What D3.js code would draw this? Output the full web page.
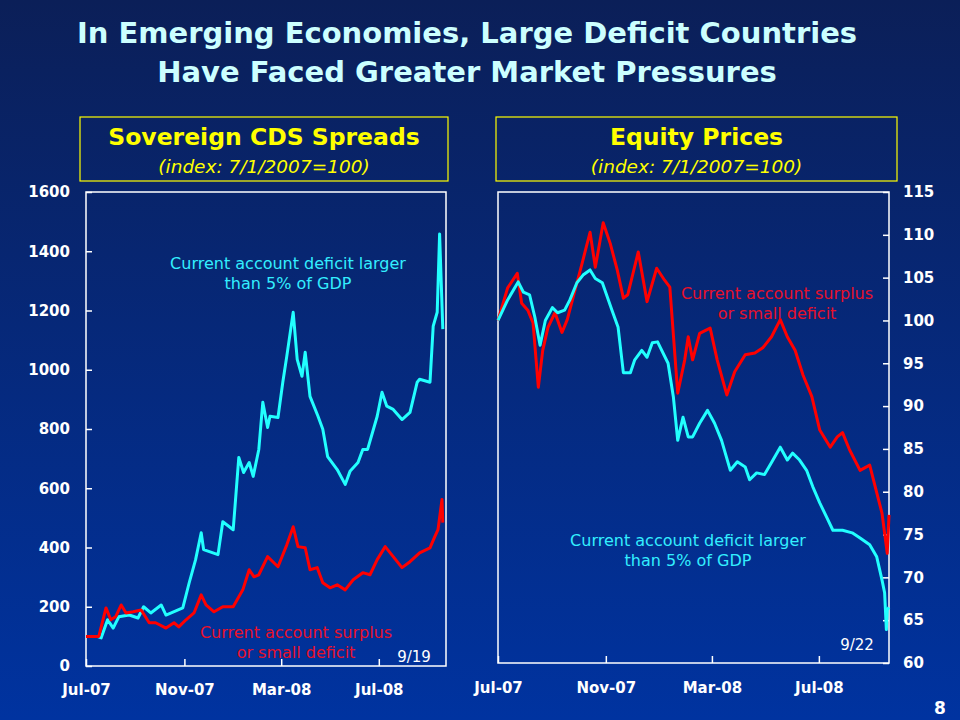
<!DOCTYPE html>
<html>
<head>
<meta charset="utf-8">
<script src="https://cdn.jsdelivr.net/npm/d3@7"></script>
<style>
  html, body { margin: 0; padding: 0; background: #07215f; }
  svg { display: block; }
  .tick text { font-family: "DejaVu Sans", Verdana, sans-serif; font-weight: bold; font-size: 15px; fill: #fff; }
</style>
</head>
<body>
<div id="chart"></div>
<script>
// Sovereign CDS spreads, index 7/1/2007 = 100
const cdsDeficitDates = ["2007-07-01","2007-07-15","2007-07-20","2007-07-28","2007-08-04","2007-08-11","2007-08-24","2007-09-04","2007-09-11","2007-09-20","2007-10-03","2007-10-09","2007-10-30","2007-11-07","2007-11-15","2007-11-22","2007-11-25","2007-12-13","2007-12-19","2008-01-01","2008-01-08","2008-01-14","2008-01-21","2008-01-26","2008-02-02","2008-02-07","2008-02-13","2008-02-16","2008-02-26","2008-03-03","2008-03-08","2008-03-16","2008-03-21","2008-03-27","2008-03-31","2008-04-06","2008-04-16","2008-04-22","2008-04-28","2008-05-10","2008-05-20","2008-05-26","2008-06-05","2008-06-11","2008-06-17","2008-06-29","2008-07-05","2008-07-11","2008-07-19","2008-07-30","2008-08-09","2008-08-18","2008-08-21","2008-09-03","2008-09-07","2008-09-12","2008-09-15","2008-09-19"];
const cdsDeficitValues = [100,100,95,156,128,166,172,162,200,179,206,172,196,281,359,450,393,376,487,460,704,653,687,640,731,890,805,843,839,958,1046,1194,1035,978,1059,910,843,799,707,663,613,657,687,731,731,843,924,877,866,832,856,958,968,958,1147,1194,1458,1137];

const cdsSurplusDates = ["2007-07-01","2007-07-17","2007-07-26","2007-08-01","2007-08-07","2007-08-14","2007-08-20","2007-08-29","2007-09-08","2007-09-18","2007-09-26","2007-10-09","2007-10-19","2007-10-25","2007-11-03","2007-11-13","2007-11-22","2007-11-28","2007-12-08","2007-12-19","2008-01-01","2008-01-13","2008-01-21","2008-01-27","2008-02-02","2008-02-13","2008-02-26","2008-03-08","2008-03-16","2008-03-22","2008-03-31","2008-04-06","2008-04-15","2008-04-22","2008-05-01","2008-05-10","2008-05-20","2008-05-30","2008-06-11","2008-06-20","2008-06-29","2008-07-09","2008-07-19","2008-07-30","2008-08-09","2008-08-21","2008-09-03","2008-09-09","2008-09-13","2008-09-18","2008-09-19"];
const cdsSurplusValues = [100,100,196,156,166,206,179,183,189,146,146,128,146,132,156,179,240,206,183,200,200,257,325,301,308,369,335,409,470,403,399,325,332,281,264,274,257,291,315,308,359,403,369,332,352,382,399,437,460,562,484];

// Equity prices, index 7/1/2007 = 100
const eqDeficitDates = ["2007-07-01","2007-07-12","2007-07-24","2007-07-30","2007-08-06","2007-08-12","2007-08-18","2007-08-24","2007-09-01","2007-09-07","2007-09-15","2007-09-21","2007-09-29","2007-10-06","2007-10-14","2007-10-20","2007-10-28","2007-11-08","2007-11-15","2007-11-21","2007-11-29","2007-12-04","2007-12-12","2007-12-18","2007-12-24","2007-12-30","2008-01-11","2008-01-17","2008-01-22","2008-01-28","2008-02-03","2008-02-08","2008-02-16","2008-02-25","2008-03-04","2008-03-12","2008-03-22","2008-03-30","2008-04-08","2008-04-13","2008-04-21","2008-04-30","2008-05-08","2008-05-18","2008-05-26","2008-06-01","2008-06-09","2008-06-17","2008-06-24","2008-07-02","2008-07-10","2008-07-17","2008-07-28","2008-08-08","2008-08-17","2008-08-28","2008-09-05","2008-09-11","2008-09-14","2008-09-16","2008-09-17","2008-09-19"];
const eqDeficitValues = [100,102.4,104.5,103.3,103,100.4,97.1,100,101.5,100.9,101.2,102.4,104.4,105.3,105.9,104.9,104.4,101.2,99.2,93.9,93.9,95.4,96.5,95.7,97.4,97.5,95,91.1,86,88.7,86.4,86.4,88,89.5,88,86,82.5,83.5,82.9,81.4,82.2,82,83.4,85.2,83.7,84.5,83.7,82.5,80.6,78.7,77,75.5,75.5,75.2,74.6,73.8,72.4,69.7,68.2,63.9,66.2,66.5];

const eqSurplusDates = ["2007-07-01","2007-07-12","2007-07-23","2007-07-28","2007-08-04","2007-08-10","2007-08-16","2007-08-21","2007-08-27","2007-09-04","2007-09-12","2007-09-18","2007-09-27","2007-10-05","2007-10-14","2007-10-20","2007-10-29","2007-11-06","2007-11-14","2007-11-21","2007-11-26","2007-12-08","2007-12-18","2007-12-29","2008-01-07","2008-01-13","2008-01-22","2008-01-30","2008-02-03","2008-02-08","2008-02-16","2008-02-28","2008-03-07","2008-03-18","2008-03-27","2008-04-08","2008-04-19","2008-04-28","2008-05-08","2008-05-18","2008-05-26","2008-06-04","2008-06-13","2008-06-23","2008-07-02","2008-07-14","2008-07-22","2008-07-28","2008-08-05","2008-08-17","2008-08-28","2008-09-05","2008-09-11","2008-09-17","2008-09-19"];
const eqSurplusValues = [100,103.8,105.5,102,101.2,99.7,92.2,96.5,99.2,100.9,98.6,100.1,103.6,106.7,110.3,106.2,111.4,109,105.9,102.6,103,108,102.2,106.1,104.7,103.9,91.5,95.4,98.1,95.4,98.5,99.1,95.4,91.3,94,96,96.2,96.8,98.1,100.1,98.1,96.5,93.6,91.1,87.2,85.2,86.4,86.9,84.9,82.5,83.1,79.9,77.5,72.8,77.3];

const monthTicks = ["2007-07-01","2007-11-01","2008-03-01","2008-07-01"];
const cdsTicks = [0,200,400,600,800,1000,1200,1400,1600];
const eqTicks = [60,65,70,75,80,85,90,95,100,105,110,115];

const W = 960, H = 720;
const parse = d3.timeParse("%Y-%m-%d");
const fmt = d3.timeFormat("%b-%y");
const CYAN = "#22ffff", RED = "#ff0000";
const FONT = "DejaVu Sans, Verdana, sans-serif";

const svg = d3.select("#chart").append("svg").attr("width", W).attr("height", H);

const grad = svg.append("defs").append("linearGradient")
  .attr("id", "bg").attr("x1", 0).attr("y1", 0).attr("x2", 0).attr("y2", 1);
grad.append("stop").attr("offset", "0%").attr("stop-color", "#0b1f58");
grad.append("stop").attr("offset", "100%").attr("stop-color", "#0033a0");
svg.append("rect").attr("width", W).attr("height", H).attr("fill", "url(#bg)");

// main title
svg.append("text")
  .attr("font-family", FONT)
  .attr("font-weight", "bold").attr("font-size", 29).attr("fill", "#ccffff")
  .attr("text-anchor", "middle")
  .selectAll("tspan")
  .data(["In Emerging Economies, Large Deficit Countries", "Have Faced Greater Market Pressures"])
  .join("tspan")
  .attr("x", 467).attr("y", (d, i) => 43 + i * 39)
  .text(d => d);

function header(x0, x1, title) {
  svg.append("rect").attr("x", x0).attr("y", 117).attr("width", x1 - x0).attr("height", 64)
    .attr("fill", "none").attr("stroke", "#ffff00").attr("stroke-width", 1.2);
  const cx = (x0 + x1) / 2;
  svg.append("text").attr("x", cx).attr("y", 145).attr("text-anchor", "middle")
    .attr("font-family", FONT).attr("font-weight", "bold").attr("font-size", 23.5)
    .attr("fill", "#ffff00").text(title);
  svg.append("text").attr("x", cx).attr("y", 173).attr("text-anchor", "middle")
    .attr("font-family", FONT).attr("font-style", "italic").attr("font-size", 18.5)
    .attr("fill", "#ffff00").text("(index: 7/1/2007=100)");
}

function note(x, y, lines, color) {
  svg.append("text").attr("font-family", FONT).attr("font-size", 16)
    .attr("fill", color).attr("text-anchor", "middle")
    .selectAll("tspan").data(lines).join("tspan")
    .attr("x", x).attr("y", (d, i) => y + i * 20).text(d => d);
}

function series(dates, values) {
  return dates.map((d, i) => ({ date: parse(d), value: values[i] }));
}

// ---- left panel: CDS spreads
header(80, 448, "Sovereign CDS Spreads");
{
  const x = d3.scaleTime().domain([parse("2007-07-01"), parse("2008-09-23")]).range([86, 446]);
  const y = d3.scaleLinear().domain([0, 1600]).range([666, 192]);
  const line = d3.line().x(d => x(d.date)).y(d => y(d.value));

  svg.append("g").attr("transform", "translate(86,0)")
    .call(d3.axisLeft(y).tickValues(cdsTicks).tickSize(-6).tickPadding(16).tickFormat(d3.format("d")))
    .call(g => g.select(".domain").remove())
    .call(g => g.selectAll(".tick line").attr("stroke", "#fff").attr("stroke-width", 1.5));

  svg.append("g").attr("transform", "translate(0,666)")
    .call(d3.axisBottom(x).tickValues(monthTicks.map(parse)).tickSize(-7).tickPadding(18).tickFormat(fmt))
    .call(g => g.select(".domain").remove())
    .call(g => g.selectAll(".tick line").attr("stroke", "#fff").attr("stroke-width", 1.5));

  svg.append("rect").attr("x", 86).attr("y", 192).attr("width", 360).attr("height", 474)
    .attr("fill", "none").attr("stroke", "#fff").attr("stroke-width", 1.5);

  svg.append("path").datum(series(cdsDeficitDates, cdsDeficitValues))
    .attr("fill", "none").attr("stroke", CYAN).attr("stroke-width", 3)
    .attr("stroke-linejoin", "round").attr("d", line);
  svg.append("path").datum(series(cdsSurplusDates, cdsSurplusValues))
    .attr("fill", "none").attr("stroke", RED).attr("stroke-width", 3)
    .attr("stroke-linejoin", "round").attr("d", line);

  note(288, 269, ["Current account deficit larger", "than 5% of GDP"], "#33eeff");
  note(296, 638, ["Current account surplus", "or small deficit"], "#e8102a");
  svg.append("text").attr("x", 414).attr("y", 662).attr("text-anchor", "middle")
    .attr("font-family", FONT).attr("font-size", 15).attr("fill", "#fff").text("9/19");
}

// ---- right panel: equity prices
header(496, 897, "Equity Prices");
{
  const x = d3.scaleTime().domain([parse("2007-07-01"), parse("2008-09-19")]).range([498, 889]);
  const y = d3.scaleLinear().domain([60, 115]).range([663, 192]);
  const line = d3.line().x(d => x(d.date)).y(d => y(d.value));

  svg.append("g").attr("transform", "translate(889,0)")
    .call(d3.axisRight(y).tickValues(eqTicks).tickSize(-6).tickPadding(14))
    .call(g => g.select(".domain").remove())
    .call(g => g.selectAll(".tick line").attr("stroke", "#fff").attr("stroke-width", 1.5));

  svg.append("g").attr("transform", "translate(0,663)")
    .call(d3.axisBottom(x).tickValues(monthTicks.map(parse)).tickSize(-7).tickPadding(19).tickFormat(fmt))
    .call(g => g.select(".domain").remove())
    .call(g => g.selectAll(".tick line").attr("stroke", "#fff").attr("stroke-width", 1.5));

  svg.append("rect").attr("x", 498).attr("y", 192).attr("width", 391).attr("height", 471)
    .attr("fill", "none").attr("stroke", "#fff").attr("stroke-width", 1.5);

  svg.append("path").datum(series(eqSurplusDates, eqSurplusValues))
    .attr("fill", "none").attr("stroke", RED).attr("stroke-width", 3)
    .attr("stroke-linejoin", "round").attr("d", line);
  svg.append("path").datum(series(eqDeficitDates, eqDeficitValues))
    .attr("fill", "none").attr("stroke", CYAN).attr("stroke-width", 3)
    .attr("stroke-linejoin", "round").attr("d", line);

  note(777, 299, ["Current account surplus", "or small deficit"], "#e8102a");
  note(688, 546, ["Current account deficit larger", "than 5% of GDP"], "#33eeff");
  svg.append("text").attr("x", 857).attr("y", 650).attr("text-anchor", "middle")
    .attr("font-family", FONT).attr("font-size", 15).attr("fill", "#fff").text("9/22");
}

// page number
svg.append("text").attr("x", 940).attr("y", 714).attr("text-anchor", "middle")
  .attr("font-family", FONT).attr("font-weight", "bold").attr("font-size", 17)
  .attr("fill", "#fff").text("8");
</script>
</body>
</html>
